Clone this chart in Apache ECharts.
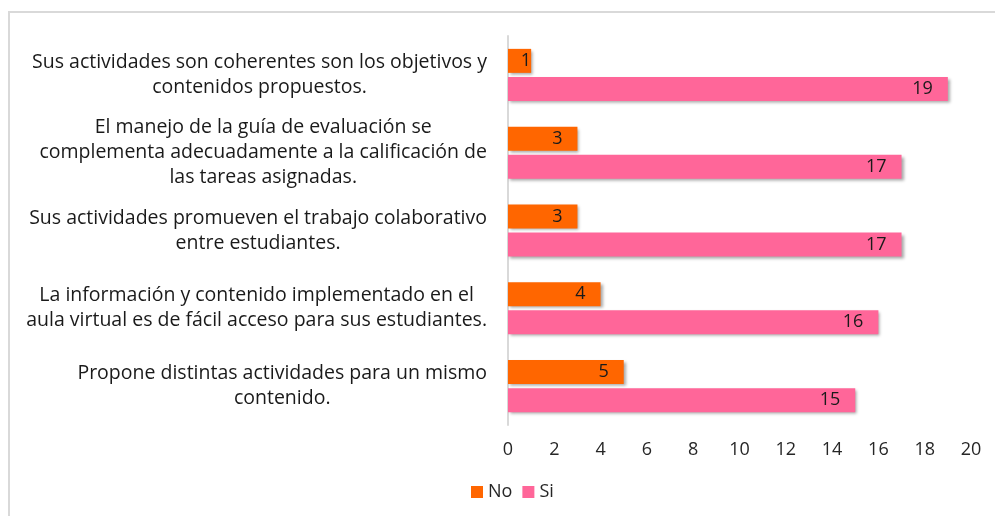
<!DOCTYPE html>
<html>
<head>
<meta charset="utf-8">
<script src="https://cdn.jsdelivr.net/npm/echarts@6/dist/echarts.min.js"></script>
<style>
  html, body { margin: 0; padding: 0; background: #fff; }
  #main { width: 995px; height: 516px; }
</style>
</head>
<body>
<div id="main"></div>
<script>
// preguntas (de arriba hacia abajo)
var categorias = [
  'Sus actividades son coherentes son los objetivos y\ncontenidos propuestos.',
  'El manejo de la guía de evaluación se\ncomplementa adecuadamente a la calificación de\nlas tareas asignadas.',
  'Sus actividades promueven el trabajo colaborativo\nentre estudiantes.',
  'La información y contenido implementado en el\naula virtual es de fácil acceso para sus estudiantes.',
  'Propone distintas actividades para un mismo\ncontenido.'
];
var valoresNo = [1, 3, 3, 4, 5];
var valoresSi = [19, 17, 17, 16, 15];
var ticksX = [0, 2, 4, 6, 8, 10, 12, 14, 16, 18, 20];

var fuente = '"Open Sans", "Noto Sans", sans-serif';

var sombra = {
  shadowColor: 'rgba(0,0,0,0.35)',
  shadowBlur: 3,
  shadowOffsetX: 2,
  shadowOffsetY: 2
};

function etiquetaBarra(v) {
  // valores pequeños: la etiqueta se pega al final de la barra
  if (v < 2) return { value: v, label: { distance: 0 } };
  return v;
}

var chart = echarts.init(document.getElementById('main'));

var option = {
  animation: false,
  textStyle: { fontFamily: fuente },
  graphic: [{
    type: 'polyline',
    shape: { points: [[9, 520], [9, 12], [1000, 12]] },
    style: { stroke: '#d9d9d9', lineWidth: 2, fill: null },
    silent: true
  }],
  legend: {
    data: ['No', 'Si'],
    bottom: 10,
    left: 466,
    itemWidth: 12,
    itemHeight: 12,
    itemGap: 10,
    icon: 'rect',
    textStyle: { fontSize: 18, color: '#262626', fontFamily: fuente }
  },
  grid: {
    left: 508,
    right: 24,
    top: 36,
    bottom: 91,
    containLabel: false
  },
  xAxis: {
    type: 'value',
    min: 0,
    max: 20,
    interval: 2,
    axisLine: { show: false },
    axisTick: { show: false },
    splitLine: { show: false },
    axisLabel: {
      margin: 16,
      fontSize: 18,
      color: '#262626',
      fontFamily: fuente,
      formatter: function (v) { return ticksX.indexOf(v) >= 0 ? String(v) : ''; }
    }
  },
  yAxis: {
    type: 'category',
    inverse: true,
    data: categorias,
    axisLine: { show: true, lineStyle: { color: '#d9d9d9', width: 2 } },
    axisTick: { show: false },
    axisLabel: {
      margin: 21,
      align: 'right',
      formatter: function (v) {
        return v.split('\n').map(function (l) { return '{c|' + l + '}'; }).join('\n');
      },
      rich: {
        c: {
          align: 'center',
          fontSize: 19.5,
          lineHeight: 25,
          color: '#1a1a1a',
          fontFamily: fuente
        }
      }
    }
  },
  series: [
    {
      name: 'No',
      type: 'bar',
      data: valoresNo.map(etiquetaBarra),
      barWidth: 24,
      barGap: '17%',
      itemStyle: Object.assign({ color: '#ff6600' }, sombra),
      label: {
        show: true,
        position: 'insideRight',
        distance: 15,
        fontSize: 18,
        color: '#1a1a1a',
        fontFamily: fuente
      }
    },
    {
      name: 'Si',
      type: 'bar',
      data: valoresSi.map(etiquetaBarra),
      barWidth: 24,
      itemStyle: Object.assign({ color: '#ff6699' }, sombra),
      label: {
        show: true,
        position: 'insideRight',
        distance: 15,
        fontSize: 18,
        color: '#1a1a1a',
        fontFamily: fuente
      }
    }
  ]
};

chart.setOption(option);
</script>
</body>
</html>
